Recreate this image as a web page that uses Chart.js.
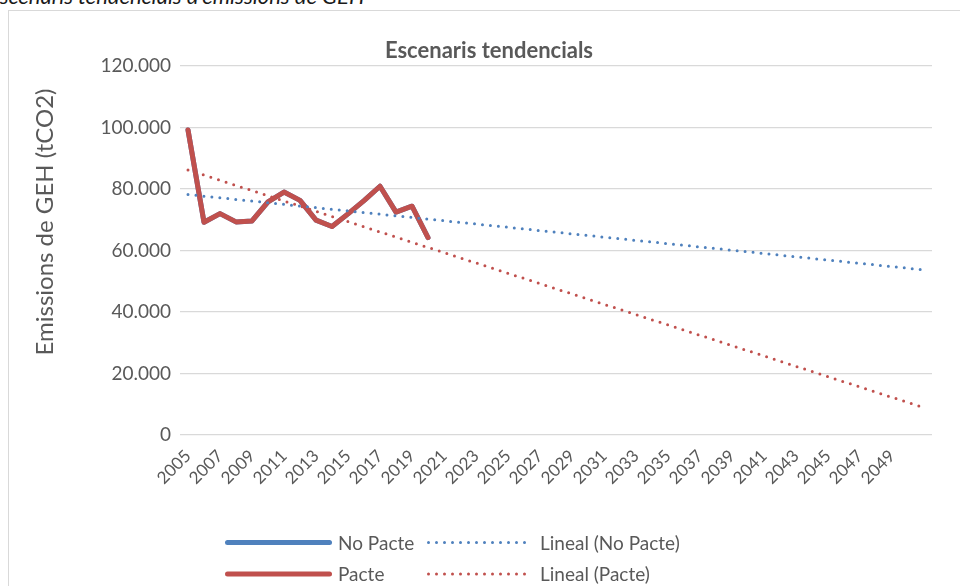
<!DOCTYPE html>
<html>
<head>
<meta charset="utf-8">
<script src="https://cdn.jsdelivr.net/npm/chart.js@4/dist/chart.umd.min.js"></script>
<style>
  html, body { margin: 0; padding: 0; background: #fff; }
  body { width: 960px; height: 586px; position: relative; overflow: hidden; font-family: Lato, sans-serif; }
  #caption { position: absolute; left: -12px; top: -16px; font-style: italic; font-size: 22px; line-height: 24px; color: #1a1a1a; white-space: nowrap; }
  #frame { position: absolute; left: 8px; top: 10px; width: 1000px; height: 700px; border: 1px solid #d9d9d9; }
  #wrap { position: absolute; left: 0; top: 0; width: 960px; height: 586px; }
</style>
</head>
<body>
<div id="caption">Escenaris tendencials d'emissions de GEH</div>
<div id="frame"></div>
<div id="wrap"><canvas id="chart" width="960" height="586"></canvas></div>
<script>
// categories (last one is the empty forecast slot of the trendlines)
const years = ['2005','2006','2007','2008','2009','2010','2011','2012','2013','2014',
  '2015','2016','2017','2018','2019','2020','2021','2022','2023','2024',
  '2025','2026','2027','2028','2029','2030','2031','2032','2033','2034',
  '2035','2036','2037','2038','2039','2040','2041','2042','2043','2044',
  '2045','2046','2047','2048','2049','2050',''];

// emissions, tCO2 (2005-2020)
const noPacte = [99200, 69200, 72000, 69300, 69600, 75800, 79000, 76300,
  69900, 67800, 71900, 76200, 80900, 72500, 74400, 64200];
const pacte = [99200, 69200, 72000, 69300, 69600, 75800, 79000, 76300,
  69900, 67800, 71900, 76200, 80900, 72500, 74400, 64200];

// linear trendlines: value at first and last category
const trendNoPacte = [78200, 53700];
const trendPacte = [86200, 8900];

const yMin = 0, yMax = 120000, yStep = 20000;

const chartTitle = 'Escenaris tendencials';
const yTitle = 'Emissions de GEH (tCO2)';
const textColor = '#595959';
const blue = '#4F81BD';
const red = '#C0504D';

function endpoints(pair) {
  const arr = years.map(() => null);
  arr[0] = pair[0];
  arr[arr.length - 1] = pair[1];
  return arr;
}

function fmt(v) {
  return String(v).replace(/\B(?=(\d{3})+(?!\d))/g, '.');
}

const dotted = [0, 8];

const datasets = [
  { label: 'No Pacte', data: noPacte, borderColor: blue, borderWidth: 5, order: 2 },
  { label: 'Lineal (No Pacte)', data: endpoints(trendNoPacte), borderColor: blue, borderWidth: 3,
    borderDash: dotted, borderCapStyle: 'round', spanGaps: true, order: 0 },
  { label: 'Pacte', data: pacte, borderColor: red, borderWidth: 5, order: 1 },
  { label: 'Lineal (Pacte)', data: endpoints(trendPacte), borderColor: red, borderWidth: 3,
    borderDash: dotted, borderCapStyle: 'round', spanGaps: true, order: 0 }
];
datasets.forEach(d => {
  d.pointRadius = 0;
  d.tension = 0;
  d.fill = false;
  d.borderJoinStyle = 'round';
  if (!d.borderCapStyle) d.borderCapStyle = 'round';
});

// legend grid: [dataset index, column, row]
const legendCells = [[0, 0, 0], [1, 1, 0], [2, 0, 1], [3, 1, 1]];

const decor = {
  id: 'decor',
  afterDraw(chart) {
    const ctx = chart.ctx;
    ctx.save();
    ctx.fillStyle = textColor;

    ctx.font = 'bold 22px Lato';
    ctx.textAlign = 'center';
    ctx.textBaseline = 'alphabetic';
    ctx.fillText(chartTitle, 489, 58);

    ctx.save();
    ctx.translate(53, 222);
    ctx.rotate(-Math.PI / 2);
    ctx.font = '24px Lato';
    ctx.fillText(yTitle, 0, 0);
    ctx.restore();

    const colX = [225, 427], lineLen = [107, 105], textX = [338, 540], rowY = [542.5, 574];
    ctx.font = '19px Lato';
    ctx.textAlign = 'left';
    ctx.textBaseline = 'middle';
    legendCells.forEach(([i, c, r]) => {
      const ds = chart.data.datasets[i];
      const w = ds.borderWidth;
      ctx.save();
      ctx.strokeStyle = ds.borderColor;
      ctx.lineWidth = w;
      ctx.lineCap = 'round';
      ctx.setLineDash(ds.borderDash || []);
      ctx.beginPath();
      ctx.moveTo(colX[c] + w / 2, rowY[r]);
      ctx.lineTo(colX[c] + lineLen[c] - w / 2, rowY[r]);
      ctx.stroke();
      ctx.restore();
      ctx.fillText(ds.label, textX[c], rowY[r] + 1);
    });
    ctx.restore();
  }
};

new Chart(document.getElementById('chart'), {
  type: 'line',
  data: { labels: years, datasets: datasets },
  options: {
    responsive: false,
    animation: false,
    layout: { padding: { left: 0, right: 28, top: 66, bottom: 0 } },
    plugins: { legend: { display: false }, tooltip: { enabled: false }, title: { display: false } },
    scales: {
      x: {
        offset: true,
        grid: { display: false },
        border: { display: false },
        ticks: {
          autoSkip: false,
          minRotation: 45,
          maxRotation: 45,
          padding: 3,
          color: textColor,
          font: { family: 'Lato', size: 17 },
          callback: function (v, i) { return i % 2 === 0 ? this.getLabelForValue(v) : ''; }
        },
        afterFit: s => { s.height = 151; }
      },
      y: {
        min: yMin,
        max: yMax,
        grid: { color: '#d9d9d9', lineWidth: 1.2, drawTicks: false },
        border: { display: false },
        ticks: {
          stepSize: yStep,
          padding: 9,
          color: textColor,
          font: { family: 'Lato', size: 19 },
          callback: v => fmt(v)
        },
        afterFit: s => { s.width = 180; }
      }
    }
  },
  plugins: [decor]
});
</script>
</body>
</html>
